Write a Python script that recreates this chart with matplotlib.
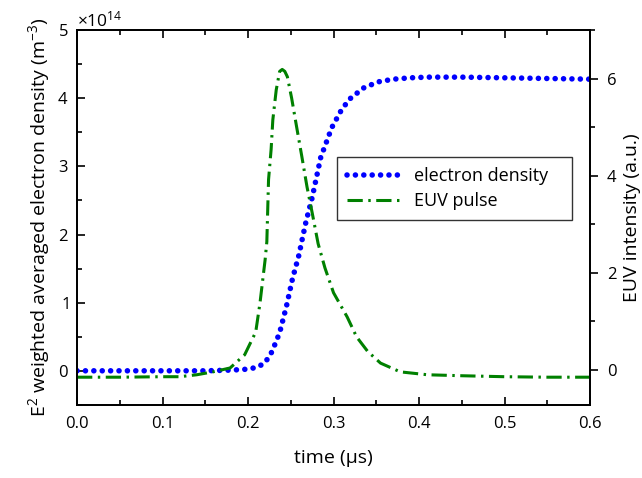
import numpy as np
import matplotlib.pyplot as plt
from matplotlib.ticker import MultipleLocator, ScalarFormatter

plt.rcParams['font.family'] = ['Open Sans', 'DejaVu Sans']
plt.rcParams['mathtext.fontset'] = 'custom'
plt.rcParams['mathtext.rm'] = 'Open Sans'
plt.rcParams['mathtext.it'] = 'Open Sans:italic'

# electron density, in units of 1e14 m^-3
t_ne = [0.0, 0.05, 0.10, 0.15, 0.18, 0.195, 0.203, 0.212, 0.22, 0.228, 0.237, 0.245,
        0.252, 0.26, 0.262, 0.268, 0.275, 0.285, 0.298, 0.308, 0.318, 0.335, 0.352,
        0.37, 0.39, 0.41, 0.45, 0.50, 0.55, 0.60]
ne = [0.0, 0.0, 0.0, 0.0, 0.01, 0.02, 0.03, 0.06, 0.12, 0.28, 0.56, 0.95,
      1.35, 1.72, 1.85, 2.2, 2.54, 3.13, 3.57, 3.80, 3.98, 4.15, 4.24,
      4.28, 4.30, 4.31, 4.31, 4.30, 4.29, 4.28]

# EUV pulse, arbitrary units
t_euv = [0.0, 0.05, 0.10, 0.12, 0.14, 0.159, 0.179, 0.196, 0.209, 0.214, 0.220,
         0.222, 0.223, 0.224, 0.227, 0.229, 0.233, 0.237, 0.240, 0.243, 0.246,
         0.251, 0.257, 0.263, 0.269, 0.275, 0.282, 0.290, 0.300, 0.316, 0.327,
         0.340, 0.355, 0.378, 0.41, 0.45, 0.50, 0.55, 0.60]
euv = [-0.15, -0.15, -0.14, -0.14, -0.1, -0.04, 0.04, 0.31, 0.78, 1.38, 2.27,
       2.64, 3.28, 3.92, 4.54, 5.15, 5.77, 6.15, 6.19, 6.15, 6.04,
       5.6, 4.99, 4.39, 3.77, 3.24, 2.6, 2.1, 1.59, 1.09, 0.68,
       0.38, 0.14, -0.04, -0.1, -0.12, -0.14, -0.15, -0.15]

fig = plt.figure(figsize=(6.42, 4.78), dpi=100)
ax = fig.add_axes([0.12, 0.153, 0.799, 0.784])
ax2 = ax.twinx()

l1, = ax.plot(np.array(t_ne), np.array(ne) * 1e14, color='#0000ff', lw=4,
              dashes=(0.01, 1.5), dash_capstyle='round', label='electron density')
l2, = ax2.plot(t_euv, euv, color='#008000', lw=2.2, dashes=(5, 1.8, 0.8, 1.8),
               label='EUV pulse')

ax.set_xlim(0, 0.6)
ax.set_ylim(-0.5e14, 5e14)
ax2.set_ylim(-0.72, 7.0)

ax.xaxis.set_major_locator(MultipleLocator(0.1))
ax.xaxis.set_minor_locator(MultipleLocator(0.05))
ax.yaxis.set_major_locator(MultipleLocator(1e14))
ax.yaxis.set_minor_locator(MultipleLocator(0.5e14))
fmt = ScalarFormatter(useMathText=True)
fmt.set_powerlimits((0, 0))
ax.yaxis.set_major_formatter(fmt)
ax.xaxis.set_major_formatter(plt.FuncFormatter(lambda v, p: f'{v:.1f}'))
ax2.yaxis.set_major_locator(MultipleLocator(2))
ax2.yaxis.set_minor_locator(MultipleLocator(1))

ax.tick_params(which='both', direction='in', top=True, right=False, labelsize=12, width=1.2)
ax.tick_params(which='major', length=6)
ax.tick_params(which='minor', length=3.5)
ax.tick_params(axis='x', pad=8)
ax.tick_params(axis='y', pad=6)
ax2.tick_params(which='both', direction='out', labelsize=12, width=1.2, pad=6)
ax2.tick_params(which='major', length=6)
ax2.tick_params(which='minor', length=3.5)
ax.yaxis.get_offset_text().set_fontsize(12.5)

for a in (ax, ax2):
    for s in a.spines.values():
        s.set_linewidth(1.3)

ax.set_xlabel('time (\u03bcs)', fontsize=14, labelpad=12)
ax.set_ylabel('E$^2$ weighted averaged electron density (m$^{-3}$)', fontsize=14, labelpad=4)
ax2.set_ylabel('EUV intensity (a.u.)', fontsize=14)
ax2.yaxis.set_label_coords(1.064, 0.5)

leg = ax.legend(handles=[l1, l2], loc='upper left', bbox_to_anchor=(0.507, 0.661),
                borderaxespad=0, fontsize=13, frameon=True, fancybox=False,
                handlelength=3.0, borderpad=0.55, labelspacing=0.4, handletextpad=0.7)
leg.get_frame().set_edgecolor('black')
leg.get_frame().set_linewidth(1.0)
# a bit of extra room on the right side of the legend box
leg._legend_box.sep = 0
for txt in leg.get_texts():
    txt.set_text(txt.get_text() + '   ')

fig.savefig('out.png', dpi=100)
